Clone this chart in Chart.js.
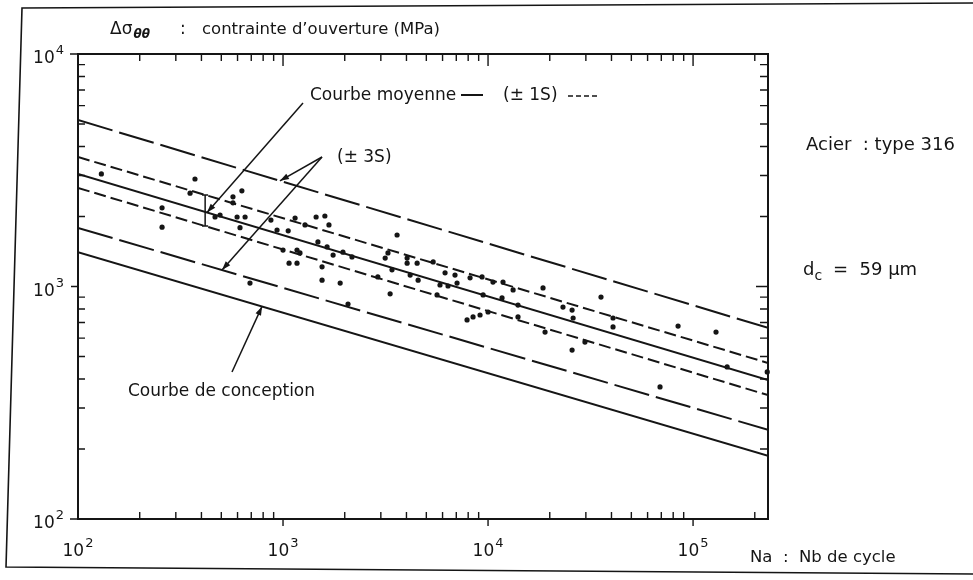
<!DOCTYPE html>
<html lang="fr">
<head>
<meta charset="utf-8">
<title>Acier type 316 – contrainte d'ouverture</title>
<script src="https://cdn.jsdelivr.net/npm/chart.js@4/dist/chart.umd.min.js"></script>
<style>
  html, body { margin: 0; padding: 0; background: #fff; }
  canvas { display: block; }
</style>
</head>
<body>
<canvas id="c" width="973" height="580"></canvas>
<script>
// Essais de fatigue : nombre de cycles Na et contrainte d'ouverture Δσθθ (MPa)
const cycleCounts = [
  130, 257, 257, 372, 352, 630, 570, 570, 466, 493,
  597, 653, 617, 690, 873, 935, 1060, 1145, 1280, 1450,
  1600, 1675, 1000, 1170, 1070, 1170, 1480, 1640, 1755, 1960,
  2170, 1550, 1550, 1900, 2075, 1210, 3600, 3250, 3150, 4030,
  4030, 4510, 5400, 3400, 2900, 4170, 4560, 3330, 5640, 6170,
  6900, 5830, 6380, 7060, 8170, 9350, 10570, 11830, 9460, 11700,
  13250, 14000, 18540, 7900, 8450, 9140, 10000, 14000, 18970, 23200,
  25700, 26000, 29700, 25700, 35560, 40700, 40700, 84500, 129400, 146600,
  230000, 69000
];
const openingStress = [
  3050, 2180, 1800, 2900, 2520, 2580, 2430, 2290, 1990, 2030,
  1990, 1990, 1790, 1035, 1930, 1750, 1735, 1970, 1840, 1990,
  2010, 1840, 1435, 1435, 1260, 1260, 1555, 1480, 1365, 1405,
  1340, 1215, 1065, 1035, 840, 1395, 1665, 1395, 1325, 1325,
  1260, 1260, 1275, 1180, 1100, 1120, 1065, 930, 920, 1145,
  1120, 1015, 1005, 1035, 1090, 1100, 1045, 1045, 920, 893,
  967, 832, 986, 718, 740, 754, 777, 740, 637, 816,
  792, 732, 577, 533, 901, 732, 670, 676, 637, 451,
  429, 370
];

// Droites de Basquin (log-log) : valeurs aux deux extrémités de l'axe des cycles
const curveCycles   = [100, 232000];
const meanCurve     = [3048, 396];
const upper1S       = [3606, 469];
const lower1S       = [2655, 341];
const upper3S       = [5200, 664];
const lower3S       = [1786, 242];
const designCurve   = [1406, 187];

// Axes
const xRange = [100, 232000];
const yRange = [100, 10000];
const xDecades = [2, 3, 4, 5];
const yDecades = [2, 3, 4];

// Points d'ancrage des flèches de repérage (en cycles)
const meanPointerN   = 426;
const scatterBarN    = 417;
const upper3SPointerN = 966;
const lower3SPointerN = 504;
const designPointerN = 790;

const INK = '#151515';
const FONT = '"DejaVu Sans", "Liberation Sans", sans-serif';

function curveAt(curve, n) {
  const l0 = Math.log10(curveCycles[0]), l1 = Math.log10(curveCycles[1]);
  const t = (Math.log10(n) - l0) / (l1 - l0);
  const v0 = Math.log10(curve[0]), v1 = Math.log10(curve[1]);
  return Math.pow(10, v0 + t * (v1 - v0));
}

function curveDataset(values, dash) {
  return {
    data: curveCycles.map((n, i) => ({ x: n, y: values[i] })),
    showLine: true,
    pointRadius: 0,
    borderColor: INK,
    borderWidth: 2,
    borderDash: dash,
    borderCapStyle: 'butt',
    fill: false,
    order: 2
  };
}

const scatterPoints = cycleCounts.map((n, i) => ({ x: n, y: openingStress[i] }));

const figureDecor = {
  id: 'figureDecor',
  beforeDraw(chart) {
    const ctx = chart.ctx;
    ctx.save();
    ctx.fillStyle = '#fff';
    ctx.fillRect(0, 0, chart.width, chart.height);
    ctx.restore();
  },
  afterDraw(chart) {
    const { ctx, chartArea: a } = chart;
    const xs = chart.scales.x, ys = chart.scales.y;
    ctx.save();
    ctx.strokeStyle = INK;
    ctx.fillStyle = INK;
    ctx.lineCap = 'butt';

    // cadre de la figure
    ctx.lineWidth = 1.6;
    ctx.beginPath();
    ctx.moveTo(973, 3);
    ctx.lineTo(22, 8);
    ctx.lineTo(6, 567);
    ctx.lineTo(973, 574);
    ctx.stroke();

    // cadre du graphique
    ctx.lineWidth = 2;
    ctx.strokeRect(a.left, a.top, a.right - a.left, a.bottom - a.top);

    // graduations logarithmiques
    ctx.lineWidth = 1.4;
    ctx.beginPath();
    for (let d = 2; d <= 5; d++) {
      for (let m = 1; m <= 9; m++) {
        const v = m * Math.pow(10, d);
        if (v <= xRange[0] || v >= xRange[1]) continue;
        const px = xs.getPixelForValue(v);
        if (m === 1) {
          ctx.moveTo(px, a.bottom); ctx.lineTo(px, a.bottom + 7);
          ctx.moveTo(px, a.top); ctx.lineTo(px, a.top + 12);
        } else {
          ctx.moveTo(px, a.bottom); ctx.lineTo(px, a.bottom - 7);
          ctx.moveTo(px, a.top); ctx.lineTo(px, a.top + 7);
        }
      }
    }
    for (let d = 2; d <= 3; d++) {
      for (let m = 1; m <= 9; m++) {
        const v = m * Math.pow(10, d);
        if (v <= yRange[0] || v >= yRange[1]) continue;
        const py = ys.getPixelForValue(v);
        if (m === 1) {
          ctx.moveTo(a.left, py); ctx.lineTo(a.left - 7, py);
          ctx.moveTo(a.right, py); ctx.lineTo(a.right - 12, py);
        } else {
          ctx.moveTo(a.left, py); ctx.lineTo(a.left + 7, py);
          ctx.moveTo(a.right, py); ctx.lineTo(a.right - 8, py);
        }
      }
    }
    // amorce des axes aux décades extrêmes
    ctx.moveTo(a.left, a.top); ctx.lineTo(a.left - 8, a.top);
    ctx.moveTo(a.left, a.bottom); ctx.lineTo(a.left - 8, a.bottom);
    ctx.stroke();

    // libellés 10^n
    function power(exp, x, y, align) {
      const size = 17, small = 13;
      ctx.font = size + 'px ' + FONT;
      const wb = ctx.measureText('10').width;
      ctx.font = small + 'px ' + FONT;
      const we = ctx.measureText(String(exp)).width;
      const total = wb + 1 + we;
      let x0 = x;
      if (align === 'center') x0 = x - total / 2;
      else if (align === 'right') x0 = x - total;
      ctx.textAlign = 'left';
      ctx.textBaseline = 'alphabetic';
      ctx.font = size + 'px ' + FONT;
      ctx.fillText('10', x0, y);
      ctx.font = small + 'px ' + FONT;
      ctx.fillText(String(exp), x0 + wb + 1, y - 9);
    }
    xDecades.forEach(d => power(d, xs.getPixelForValue(Math.pow(10, d)), 556, 'center'));
    yDecades.forEach(d => power(d, a.left - 14, ys.getPixelForValue(Math.pow(10, d)) + 9, 'right'));

    function text(str, x, y, size, style) {
      ctx.font = (style ? style + ' ' : '') + size + 'px ' + FONT;
      ctx.textAlign = 'left';
      ctx.textBaseline = 'alphabetic';
      ctx.fillText(str, x, y);
      return ctx.measureText(str).width;
    }

    // titre de l'axe des ordonnées
    let w = text('Δσ', 110, 34, 17);
    text('θθ', 110 + w + 1, 38, 12, 'italic bold');
    text(':', 180, 34, 17);
    text('contrainte d\u2019ouverture (MPa)', 202, 34, 16.5);

    // titre de l'axe des abscisses
    text('Na  :  Nb de cycle', 750, 562, 16.5);

    // caractéristiques de l'essai
    text('Acier  : type 316', 806, 150, 18);
    w = text('d', 803, 275, 18);
    text('c', 803 + w, 280, 14);
    text('=  59 \u00b5m', 833, 275, 18);

    // légende des courbes
    text('Courbe moyenne', 310, 100, 17);
    ctx.lineWidth = 2;
    ctx.setLineDash([]);
    ctx.beginPath(); ctx.moveTo(461, 95); ctx.lineTo(483, 95); ctx.stroke();
    text('(\u00b1 1S)', 503, 100, 17);
    ctx.lineWidth = 1.6;
    ctx.setLineDash([5, 3]);
    ctx.beginPath(); ctx.moveTo(568, 96); ctx.lineTo(598, 96); ctx.stroke();
    ctx.setLineDash([]);
    text('(\u00b1 3S)', 337, 162, 17);
    text('Courbe de conception', 128, 396, 17);

    // flèches de repérage
    function arrow(x0, y0, x1, y1) {
      ctx.lineWidth = 1.5;
      ctx.beginPath(); ctx.moveTo(x0, y0); ctx.lineTo(x1, y1); ctx.stroke();
      const ang = Math.atan2(y1 - y0, x1 - x0), len = 9, half = 3;
      ctx.beginPath();
      ctx.moveTo(x1, y1);
      ctx.lineTo(x1 - len * Math.cos(ang) + half * Math.sin(ang), y1 - len * Math.sin(ang) - half * Math.cos(ang));
      ctx.lineTo(x1 - len * Math.cos(ang) - half * Math.sin(ang), y1 - len * Math.sin(ang) + half * Math.cos(ang));
      ctx.closePath();
      ctx.fill();
    }
    function onCurve(curve, n) {
      return [xs.getPixelForValue(n), ys.getPixelForValue(curveAt(curve, n))];
    }
    let p = onCurve(meanCurve, meanPointerN);
    arrow(303, 103, p[0], p[1]);
    p = onCurve(upper3S, upper3SPointerN);
    arrow(322, 157, p[0], p[1]);
    p = onCurve(lower3S, lower3SPointerN);
    arrow(322, 157, p[0], p[1]);
    p = onCurve(designCurve, designPointerN);
    arrow(232, 372, p[0], p[1]);

    // barre de dispersion ± 1S
    const bx = xs.getPixelForValue(scatterBarN);
    const by0 = ys.getPixelForValue(curveAt(upper1S, scatterBarN));
    const by1 = ys.getPixelForValue(curveAt(lower1S, scatterBarN));
    ctx.lineWidth = 1.5;
    ctx.beginPath();
    ctx.moveTo(bx, by0); ctx.lineTo(bx, by1);
    ctx.moveTo(bx - 3, by0); ctx.lineTo(bx + 3, by0);
    ctx.moveTo(bx - 3, by1); ctx.lineTo(bx + 3, by1);
    ctx.stroke();

    ctx.restore();
  }
};

new Chart(document.getElementById('c'), {
  type: 'scatter',
  data: {
    datasets: [
      curveDataset(upper3S, [36, 7]),
      curveDataset(upper1S, [12, 5]),
      curveDataset(meanCurve, []),
      curveDataset(lower1S, [12, 5]),
      curveDataset(lower3S, [36, 7]),
      curveDataset(designCurve, []),
      {
        data: scatterPoints,
        pointRadius: 2.6,
        pointBorderWidth: 0,
        backgroundColor: INK,
        borderColor: INK,
        clip: false,
        order: 1
      }
    ]
  },
  options: {
    responsive: false,
    devicePixelRatio: 1,
    animation: false,
    layout: { padding: { left: 78, right: 205, top: 54, bottom: 61 } },
    elements: { line: { tension: 0 } },
    plugins: { legend: { display: false }, tooltip: { enabled: false } },
    scales: {
      x: {
        type: 'logarithmic', min: xRange[0], max: xRange[1],
        ticks: { display: false },
        grid: { display: false, drawTicks: false },
        border: { display: false }
      },
      y: {
        type: 'logarithmic', min: yRange[0], max: yRange[1],
        ticks: { display: false },
        grid: { display: false, drawTicks: false },
        border: { display: false }
      }
    }
  },
  plugins: [figureDecor]
});
</script>
</body>
</html>
